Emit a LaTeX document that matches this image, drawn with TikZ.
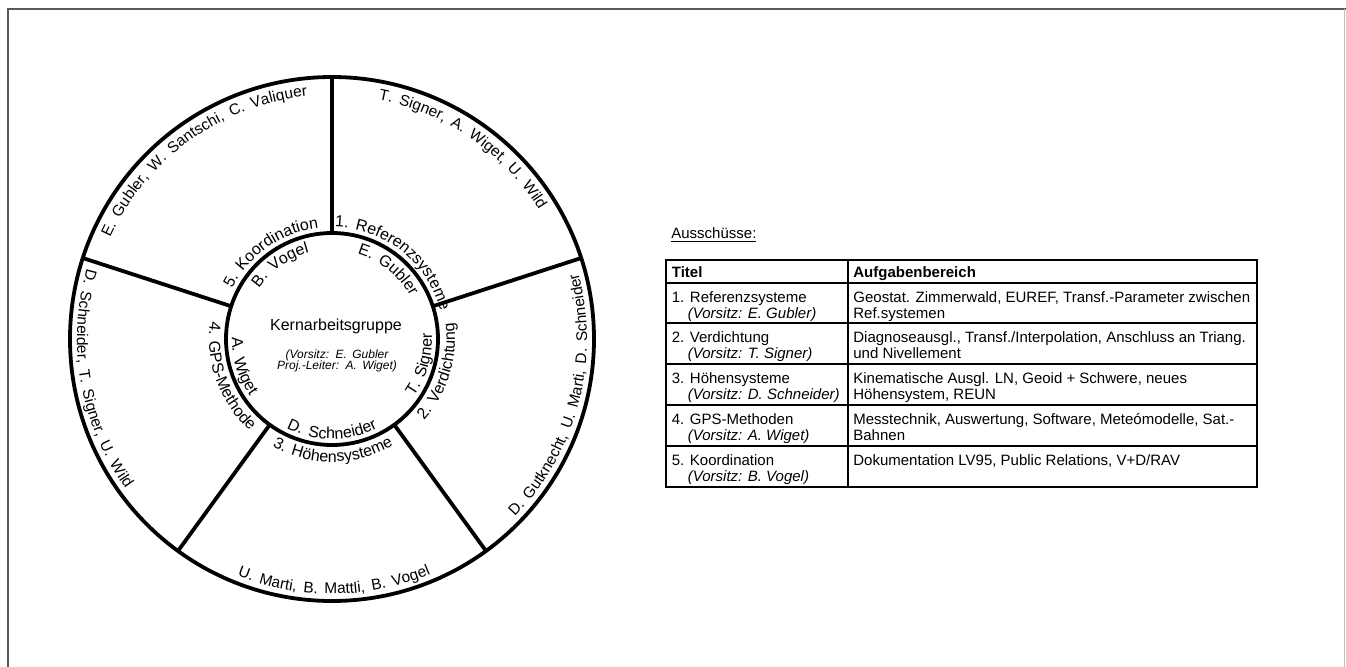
\documentclass[tikz,border=0pt]{standalone}
\usepackage{fontspec}
\setmainfont{Liberation Sans}
\usetikzlibrary{decorations.text}
\newcommand{\ringfont}{\fontsize{8}{9}\selectfont\spaceskip=0.42em\relax}
\newcommand{\namefont}{\fontsize{7.7}{9}\selectfont\spaceskip=0.45em\relax}
\newcommand{\kernfont}{\fontsize{6}{5.6}\selectfont\itshape\spaceskip=0.45em\relax}
\tikzset{
	ringline/.style={line width=1.9pt, black},
	tabline/.style={line width=1.3pt, black},
	frameline/.style={line width=1pt, black!65},
	ringtext/.style={decorate, decoration={text along path, text align=center, text={|\ringfont|#1}}},
	nametext/.style={decorate, decoration={text along path, text align=center, text={|\namefont|#1}}},
	cell/.style={anchor=north west, inner sep=0pt, align=left, font=\fontsize{7.5}{8}\selectfont}
}

\begin{document}
\begin{tikzpicture}[x=0.5pt, y=0.5pt]
		\useasboundingbox (0, 0) rectangle (1346, 666);

		% frame of the page
		\draw[frameline]	(7.5, -10) to (7.5, 656.5) to (1346, 656.5);
		\draw[black!25, line width=0.8pt]	(1344.5, 656.5) to (1344.5, -10);

		% ring with five sectors
		\begin{scope}[shift={(332, 327)}]
			\draw[ringline]	(0, 0) circle[radius=262];
			\draw[ringline]	(0, 0) circle[radius=106];
			\foreach \a in {90, 18, -54, -126, 162} {
				\draw[ringline]	(\a:106) to (\a:262);
			}

			% committee titles and chairs, upper half
			\path[ringtext={1. Referenzsysteme}]	(101.5:112) arc[start angle=101.5, end angle=1.5, radius=112];
			\path[ringtext={5. Koordination}]		(175:112) arc[start angle=175, end angle=75, radius=112];
			\path[ringtext={E. Gubler}]				(101:89) arc[start angle=101, end angle=1, radius=89];
			\path[ringtext={B. Vogel}]				(175:89) arc[start angle=175, end angle=75, radius=89];

			% committee titles and chairs, lower half
			\path[ringtext={T. Signer}]				(-66:100) arc[start angle=-66, end angle=34, radius=100];
			\path[ringtext={2. Verdichtung}]		(-67:123) arc[start angle=-67, end angle=33, radius=123];
			\path[ringtext={D. Schneider}]			(220:100) arc[start angle=220, end angle=320, radius=100];
			\path[ringtext={3. Höhensysteme}]		(220.5:123) arc[start angle=220.5, end angle=320.5, radius=123];
			\path[ringtext={A. Wiget}]				(147:100) arc[start angle=147, end angle=247, radius=100];
			\path[ringtext={4. GPS-Methode}]		(150:123) arc[start angle=150, end angle=250, radius=123];

			% members
			\path[nametext={T. Signer, A. Wiget, U. Wild}]	(105.5:244) arc[start angle=105.5, end angle=5.5, radius=244];
			\path[nametext={E. Gubler, W. Santschi, C. Valiquer}]	(175.6:244) arc[start angle=175.6, end angle=75.6, radius=244];
			\path[nametext={D. Gutknecht, U. Marti, D. Schneider}]	(-64.6:255) arc[start angle=-64.6, end angle=35.4, radius=255];
			\path[nametext={D. Schneider, T. Signer, U. Wild}]	(140:255) arc[start angle=140, end angle=240, radius=255];
			\path[nametext={U. Marti, B. Mattli, B. Vogel}]	(220.5:255) arc[start angle=220.5, end angle=320.5, radius=255];
		\end{scope}

		\node[anchor=base, inner sep=0pt, font=\fontsize{8}{9}\selectfont] (kern) at (336, 336) {Kernarbeitsgruppe};
		\node[inner sep=0pt, align=center, font=\kernfont] (kernvorsitz) at (337, 305) {(Vorsitz: E. Gubler\\Proj.-Leiter: A. Wiget)};

		% table of committees
		\node[anchor=base west, inner sep=0pt, font=\fontsize{7.5}{8}\selectfont] (ausschuesse) at (671, 427.5) {\underline{Ausschüsse:}};

		\draw[tabline]	(666, 406) rectangle (1257, 179);
		\draw[tabline]	(848, 406) to (848, 179);
		\foreach \y in {383, 343, 302, 261, 220} {
			\draw[tabline]	(666, \y) to (1257, \y);
		}

		\node[anchor=base west, inner sep=0pt, font=\fontsize{7.5}{8}\selectfont\bfseries] (titel) at (671.5, 389) {Titel};
		\node[anchor=base west, inner sep=0pt, font=\fontsize{7.5}{8}\selectfont\bfseries] (aufgaben) at (853, 389) {Aufgabenbereich};

		\node[cell] (tit1) at (671.5, 375) {1. Referenzsysteme\\\hspace*{8pt}\textit{(Vorsitz: E. Gubler)}};
		\node[cell] (auf1) at (853, 375) {Geostat. Zimmerwald, EUREF, Transf.-Parameter zwischen\\Ref.systemen};
		\node[cell] (tit2) at (671.5, 335) {2. Verdichtung\\\hspace*{8pt}\textit{(Vorsitz: T. Signer)}};
		\node[cell] (auf2) at (853, 335) {Diagnoseausgl., Transf./Interpolation, Anschluss an Triang.\\und Nivellement};
		\node[cell] (tit3) at (671.5, 294) {3. Höhensysteme\\\hspace*{8pt}\textit{(Vorsitz: D. Schneider)}};
		\node[cell] (auf3) at (853, 294) {Kinematische Ausgl. LN, Geoid + Schwere, neues\\Höhensystem, REUN};
		\node[cell] (tit4) at (671.5, 253) {4. GPS-Methoden\\\hspace*{8pt}\textit{(Vorsitz: A. Wiget)}};
		\node[cell] (auf4) at (853, 253) {Messtechnik, Auswertung, Software, Meteómodelle, Sat.-\\Bahnen};
		\node[cell] (tit5) at (671.5, 212) {5. Koordination\\\hspace*{8pt}\textit{(Vorsitz: B. Vogel)}};
		\node[cell] (auf5) at (853, 212) {Dokumentation LV95, Public Relations, V+D/RAV};
	\end{tikzpicture}
\end{document}
